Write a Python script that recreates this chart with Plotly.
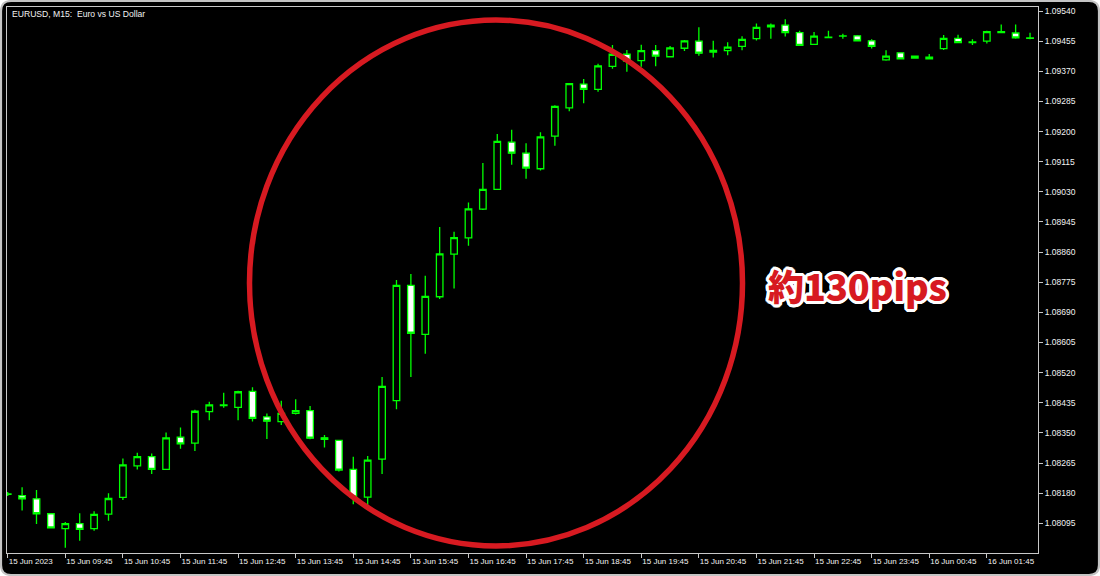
import pandas as pd
import plotly.graph_objects as go

# ---------------- data ----------------
times = pd.date_range("2023-06-15 08:45", periods=72, freq="15min")

opens = [1.08177, 1.08173, 1.08164, 1.08122, 1.08080, 1.08094, 1.08080, 1.08121, 1.08168, 1.08257,
         1.08283, 1.08247, 1.08338, 1.08321, 1.08410, 1.08427, 1.08422, 1.08467, 1.08395, 1.08382,
         1.08405, 1.08413, 1.08336, 1.08329, 1.08247, 1.08169, 1.08276, 1.08441, 1.08766, 1.08628,
         1.08734, 1.08854, 1.08900, 1.08981, 1.09037, 1.09170, 1.09139, 1.09095, 1.09187, 1.09267,
         1.09334, 1.09319, 1.09384, 1.09418, 1.09400, 1.09428, 1.09411, 1.09435, 1.09455, 1.09424,
         1.09428, 1.09440, 1.09462, 1.09495, 1.09500, 1.09479, 1.09446, 1.09465, 1.09469, 1.09470,
         1.09456, 1.09402, 1.09422, 1.09407, 1.09410, 1.09434, 1.09463, 1.09451, 1.09455, 1.09479,
         1.09478, 1.09463]
highs = [1.08183, 1.08197, 1.08189, 1.08124, 1.08099, 1.08123, 1.08129, 1.08180, 1.08278, 1.08294,
         1.08292, 1.08351, 1.08365, 1.08415, 1.08438, 1.08463, 1.08469, 1.08479, 1.08405, 1.08441,
         1.08445, 1.08426, 1.08344, 1.08330, 1.08283, 1.08285, 1.08508, 1.08781, 1.08798, 1.08793,
         1.08931, 1.08917, 1.09000, 1.09111, 1.09193, 1.09205, 1.09167, 1.09198, 1.09274, 1.09337,
         1.09348, 1.09391, 1.09444, 1.09430, 1.09445, 1.09444, 1.09441, 1.09458, 1.09494, 1.09456,
         1.09452, 1.09469, 1.09505, 1.09505, 1.09517, 1.09484, 1.09481, 1.09484, 1.09476, 1.09472,
         1.09460, 1.09429, 1.09424, 1.09414, 1.09419, 1.09472, 1.09473, 1.09460, 1.09484, 1.09502,
         1.09502, 1.09479]
lows = [1.08172, 1.08131, 1.08093, 1.08080, 1.08026, 1.08046, 1.08074, 1.08102, 1.08161, 1.08247,
        1.08234, 1.08245, 1.08305, 1.08299, 1.08386, 1.08421, 1.08386, 1.08382, 1.08333, 1.08372,
        1.08402, 1.08332, 1.08309, 1.08241, 1.08149, 1.08144, 1.08234, 1.08417, 1.08508, 1.08573,
        1.08728, 1.08757, 1.08878, 1.08979, 1.09035, 1.09106, 1.09067, 1.09090, 1.09160, 1.09257,
        1.09280, 1.09312, 1.09377, 1.09369, 1.09383, 1.09384, 1.09409, 1.09427, 1.09414, 1.09409,
        1.09415, 1.09429, 1.09457, 1.09462, 1.09468, 1.09441, 1.09444, 1.09463, 1.09462, 1.09454,
        1.09434, 1.09400, 1.09403, 1.09406, 1.09403, 1.09430, 1.09449, 1.09444, 1.09448, 1.09477,
        1.09462, 1.09460]
closes = [1.08178, 1.08164, 1.08122, 1.08082, 1.08094, 1.08078, 1.08120, 1.08165, 1.08260, 1.08283,
          1.08247, 1.08336, 1.08319, 1.08411, 1.08429, 1.08429, 1.08466, 1.08391, 1.08383, 1.08405,
          1.08413, 1.08335, 1.08332, 1.08245, 1.08169, 1.08273, 1.08481, 1.08766, 1.08631, 1.08735,
          1.08855, 1.08901, 1.08982, 1.09037, 1.09172, 1.09139, 1.09097, 1.09185, 1.09271, 1.09335,
          1.09319, 1.09385, 1.09418, 1.09399, 1.09428, 1.09413, 1.09436, 1.09456, 1.09421, 1.09429,
          1.09438, 1.09460, 1.09494, 1.09500, 1.09479, 1.09443, 1.09469, 1.09466, 1.09470, 1.09456,
          1.09440, 1.09413, 1.09405, 1.09413, 1.09405, 1.09463, 1.09451, 1.09453, 1.09482, 1.09482,
          1.09464, 1.09464]

tick_times = ["2023-06-15 08:45", "2023-06-15 09:45", "2023-06-15 10:45", "2023-06-15 11:45",
              "2023-06-15 12:45", "2023-06-15 13:45", "2023-06-15 14:45", "2023-06-15 15:45",
              "2023-06-15 16:45", "2023-06-15 17:45", "2023-06-15 18:45", "2023-06-15 19:45",
              "2023-06-15 20:45", "2023-06-15 21:45", "2023-06-15 22:45", "2023-06-15 23:45",
              "2023-06-16 00:45", "2023-06-16 01:45"]
tick_labels = ["15 Jun 2023", "15 Jun 09:45", "15 Jun 10:45", "15 Jun 11:45", "15 Jun 12:45",
               "15 Jun 13:45", "15 Jun 14:45", "15 Jun 15:45", "15 Jun 16:45", "15 Jun 17:45",
               "15 Jun 18:45", "15 Jun 19:45", "15 Jun 20:45", "15 Jun 21:45", "15 Jun 22:45",
               "15 Jun 23:45", "16 Jun 00:45", "16 Jun 01:45"]
price_ticks = [1.09540, 1.09455, 1.09370, 1.09285, 1.09200, 1.09115, 1.09030, 1.08945, 1.08860,
               1.08775, 1.08690, 1.08605, 1.08520, 1.08435, 1.08350, 1.08265, 1.08180, 1.08095]

title_text = "EURUSD, M15:  Euro vs US Dollar"
note_text = "約130pips"

# ---------------- layout helpers ----------------
W, H = 1100, 576
L_PX, R_PX, T_PX, B_PX = 7, 1038, 7, 553


def px(x):
    return (x - L_PX) / (R_PX - L_PX)


def py(y):
    return (B_PX - y) / (B_PX - T_PX)


GREEN = "#00ff00"
AXIS = "#c8c8c8"
TXT = "#f2f2f2"
RED = "#d71a21"

fig = go.Figure()
fig.add_trace(go.Candlestick(
    x=times, open=opens, high=highs, low=lows, close=closes,
    increasing=dict(line=dict(color=GREEN, width=1.3), fillcolor="#000000"),
    decreasing=dict(line=dict(color=GREEN, width=1.3), fillcolor="#ffffff"),
    whiskerwidth=0, hoverinfo="skip", showlegend=False,
))

# rounded outer frame (black panel with grey border)
r = 10
x0p, x1p, y0p, y1p = 1, W - 1, 1, H - 1
path = (
    f"M {px(x0p + r)} {py(y0p)} L {px(x1p - r)} {py(y0p)} "
    f"Q {px(x1p)} {py(y0p)} {px(x1p)} {py(y0p + r)} "
    f"L {px(x1p)} {py(y1p - r)} Q {px(x1p)} {py(y1p)} {px(x1p - r)} {py(y1p)} "
    f"L {px(x0p + r)} {py(y1p)} Q {px(x0p)} {py(y1p)} {px(x0p)} {py(y1p - r)} "
    f"L {px(x0p)} {py(y0p + r)} Q {px(x0p)} {py(y0p)} {px(x0p + r)} {py(y0p)} Z"
)
fig.add_shape(type="path", path=path, xref="paper", yref="paper",
              fillcolor="#000000", line=dict(color="#c4c4c4", width=2.2), layer="below")

# red ellipse highlight
fig.add_shape(type="circle", xref="paper", yref="paper",
              x0=px(249.5), x1=px(742.5), y0=py(546), y1=py(20),
              line=dict(color=RED, width=5.5), layer="above")

fig.add_annotation(text=title_text, xref="paper", yref="paper", x=px(10), y=py(14),
                   xanchor="left", yanchor="middle", showarrow=False,
                   font=dict(family="Liberation Sans, DejaVu Sans", size=8.6, color=TXT))

outline = ", ".join(f"{dx}px {dy}px 0 #ffffff" for dx, dy in
                    [(3, 0), (-3, 0), (0, 3), (0, -3), (2, 2), (-2, -2), (2, -2), (-2, 2),
                     (3, 1), (3, -1), (-3, 1), (-3, -1), (1, 3), (-1, 3), (1, -3), (-1, -3)])
fig.add_annotation(text=note_text, xref="paper", yref="paper", x=px(857), y=py(285),
                   xanchor="center", yanchor="middle", showarrow=False,
                   font=dict(family="Noto Sans CJK JP", size=36, color=RED, weight=900,
                             shadow=outline))

fig.update_layout(
    width=W, height=H,
    margin=dict(l=L_PX, r=W - R_PX, t=T_PX, b=H - B_PX, pad=0, autoexpand=False),
    paper_bgcolor="#ffffff", plot_bgcolor="rgba(0,0,0,0)",
    boxgap=0.35,
    showlegend=False,
    xaxis=dict(
        type="date", range=["2023-06-15 08:44:16", "2023-06-16 02:38:18"],
        rangeslider=dict(visible=False),
        tickvals=tick_times, ticktext=tick_labels, tickangle=0,
        ticks="outside", ticklen=4, tickcolor=AXIS, tickwidth=1,
        ticklabelposition="outside right", automargin=False,
        tickfont=dict(family="Liberation Sans, DejaVu Sans", size=8, color=TXT),
        showgrid=False, zeroline=False,
        showline=True, linecolor=AXIS, linewidth=1, mirror=True,
        fixedrange=True,
    ),
    yaxis=dict(
        side="right", range=[1.0801122, 1.0955129], automargin=False,
        tickvals=price_ticks, tickformat=".5f",
        ticks="outside", ticklen=4, tickcolor=AXIS, tickwidth=1,
        tickfont=dict(family="Liberation Sans, DejaVu Sans", size=8.5, color=TXT),
        showgrid=False, zeroline=False,
        showline=True, linecolor=AXIS, linewidth=1, mirror=True,
        fixedrange=True,
    ),
)

fig.write_html("out.html", config={"displayModeBar": False},
               post_script="document.body.style.margin='0';document.body.style.overflow='hidden';")
